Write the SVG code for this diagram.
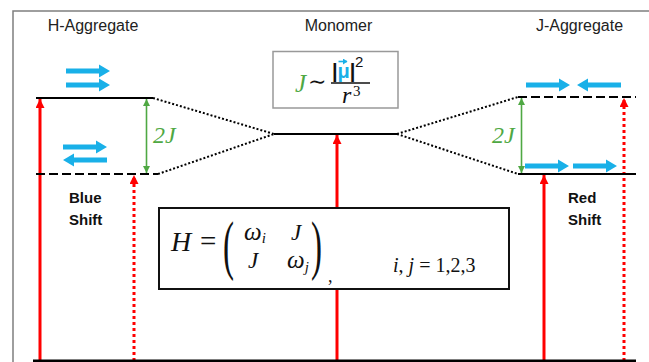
<svg xmlns="http://www.w3.org/2000/svg" width="649" height="362" viewBox="0 0 649 362">
<style>
.lbl{font-family:"Liberation Sans",Arial,sans-serif;font-size:16px;fill:#222}
.shift{font-family:"Liberation Sans",Arial,sans-serif;font-size:15px;font-weight:bold;fill:#111}
.m{font-family:"Liberation Serif","Times New Roman",serif;font-style:italic;fill:#111}
.mr{font-family:"Liberation Serif","Times New Roman",serif;fill:#111}
.g{fill:#4fa843}
.lvl{stroke:#000;stroke-width:2;fill:none}
.dash{stroke-dasharray:9,4}
.dot{stroke:#000;stroke-width:2;stroke-dasharray:2,2;fill:none}
.red{stroke:#ff0000;stroke-width:3;fill:none}
.reddot{stroke:#ff0000;stroke-width:3;stroke-dasharray:3,3;fill:none}
.grn{stroke:#4fa843;stroke-width:1.6;fill:none}
.blue{fill:#19b0e8}
</style>
<defs>
<marker id="rh" markerUnits="userSpaceOnUse" markerWidth="10" markerHeight="10" refX="9" refY="4.5" orient="auto"><path d="M0,0 L9,4.5 L0,9 Z" fill="#ff0000"/></marker>
<marker id="gh" markerUnits="userSpaceOnUse" markerWidth="8" markerHeight="8" refX="7" refY="3.5" orient="auto-start-reverse"><path d="M0,0 L7,3.5 L0,7 Z" fill="#4fa843"/></marker>
<marker id="vh" markerUnits="userSpaceOnUse" markerWidth="5" markerHeight="6" refX="4" refY="3" orient="auto"><path d="M0,0 L4.5,3 L0,6 Z" fill="#19b0e8"/></marker>
<path id="ba" class="blue" d="M0,-2.5 H33 V-6.5 L44,0 L33,6.5 V2.5 H0 Z"/>
</defs>

<!-- frame -->
<path d="M13,362 V11 H649" stroke="#7f7f7f" stroke-width="1.5" fill="none"/>

<!-- titles -->
<text class="lbl" x="93" y="31" text-anchor="middle">H-Aggregate</text>
<text class="lbl" x="338.5" y="31" text-anchor="middle">Monomer</text>
<text class="lbl" x="579.5" y="31" text-anchor="middle">J-Aggregate</text>

<!-- connectors -->
<g id="connectors">
<path class="dot" d="M153,98 L274,134 M158,174 L274,134"/>
<path class="dot" d="M397,134 L518,97 M397,134 L518,174"/>
<line class="red" x1="40" y1="361" x2="40" y2="99" marker-end="url(#rh)"/>
<line class="reddot" x1="134" y1="361" x2="134" y2="175" marker-end="url(#rh)"/>
<line class="red" x1="337" y1="361" x2="337" y2="135" marker-end="url(#rh)"/>
<line class="red" x1="544" y1="361" x2="544" y2="175" marker-end="url(#rh)"/>
<line class="reddot" x1="624" y1="361" x2="624" y2="98" marker-end="url(#rh)"/>
<line class="grn" x1="146.5" y1="99" x2="146.5" y2="173" marker-start="url(#gh)" marker-end="url(#gh)"/>
<line class="grn" x1="521.5" y1="98" x2="521.5" y2="173" marker-start="url(#gh)" marker-end="url(#gh)"/>
</g>

<!-- H aggregate -->
<g id="h-aggregate">
<line class="lvl" x1="36" y1="98" x2="153" y2="98"/>
<line class="lvl dash" x1="36" y1="174" x2="158" y2="174"/>
<use href="#ba" x="66" y="71"/>
<use href="#ba" x="66" y="85"/>
<use href="#ba" x="63" y="147"/>
<use href="#ba" transform="translate(107,160) scale(-1,1)"/>
<text class="m g" x="153" y="143" font-size="24">2J</text>
<text class="shift" x="69" y="203">Blue</text>
<text class="shift" x="69" y="225">Shift</text>
</g>

<!-- Monomer -->
<g id="monomer">
<line class="lvl" x1="274" y1="134" x2="397" y2="134"/>
</g>

<!-- J formula box -->
<g id="coupling-box">
<rect x="273" y="51.5" width="125" height="56.5" fill="#fff" stroke="#999" stroke-width="1.5"/>
<text class="m g" x="295" y="92" font-size="25">J</text>
<text x="308" y="89" font-family="DejaVu Serif,serif" font-size="22" fill="#111">∼</text>
<text x="332" y="78" font-family="Liberation Sans,Arial,sans-serif" font-size="20" font-weight="bold" fill="#111">|<tspan fill="#19b0e8">μ</tspan>|</text>
<line x1="338.5" y1="61.5" x2="347" y2="61.5" stroke="#19b0e8" stroke-width="1.6" marker-end="url(#vh)"/>
<text x="355" y="67" font-family="Liberation Sans,Arial,sans-serif" font-size="15" fill="#111">2</text>
<line x1="331" y1="83" x2="370" y2="83" stroke="#111" stroke-width="1.3"/>
<text class="m" x="342" y="103" font-size="24">r</text>
<text class="mr" x="353" y="96" font-size="15">3</text>
</g>

<!-- J aggregate -->
<g id="j-aggregate">
<line class="lvl dash" x1="518" y1="97" x2="636" y2="97"/>
<line class="lvl" x1="518" y1="174" x2="636" y2="174"/>
<use href="#ba" x="526" y="85"/>
<use href="#ba" transform="translate(621,85) scale(-1,1)"/>
<use href="#ba" x="525" y="166"/>
<use href="#ba" x="573" y="166"/>
<text class="m g" x="492" y="143" font-size="24">2J</text>
<text class="shift" x="568" y="203">Red</text>
<text class="shift" x="568" y="225">Shift</text>
</g>

<!-- Hamiltonian box -->
<g id="hamiltonian-box">
<rect x="159" y="208" width="350" height="81" fill="#fff" stroke="#111" stroke-width="2"/>
<text class="m" x="171" y="251" font-size="28">H</text>
<text class="mr" x="200" y="251" font-size="29">=</text>
<text class="mr" transform="matrix(1,0,0,2,223,0)" y="133.3" font-size="33">(</text>
<text class="m" x="244" y="240" font-size="25">ω<tspan font-size="15" dy="3">i</tspan></text>
<text class="m" x="291" y="240" font-size="23">J</text>
<text class="m" x="248" y="268" font-size="23">J</text>
<text class="m" x="287" y="268" font-size="25">ω<tspan font-size="15" dy="4">j</tspan></text>
<text class="mr" transform="matrix(1,0,0,2,311,0)" y="133.3" font-size="33">)</text>
<text class="mr" x="328" y="282" font-size="18">,</text>
<text class="mr" x="393" y="272" font-size="20"><tspan font-style="italic">i</tspan>, <tspan font-style="italic">j</tspan> = 1,2,3</text>
</g>

<!-- ground -->
<line x1="33" y1="361" x2="636" y2="361" stroke="#000" stroke-width="3"/>
</svg>
